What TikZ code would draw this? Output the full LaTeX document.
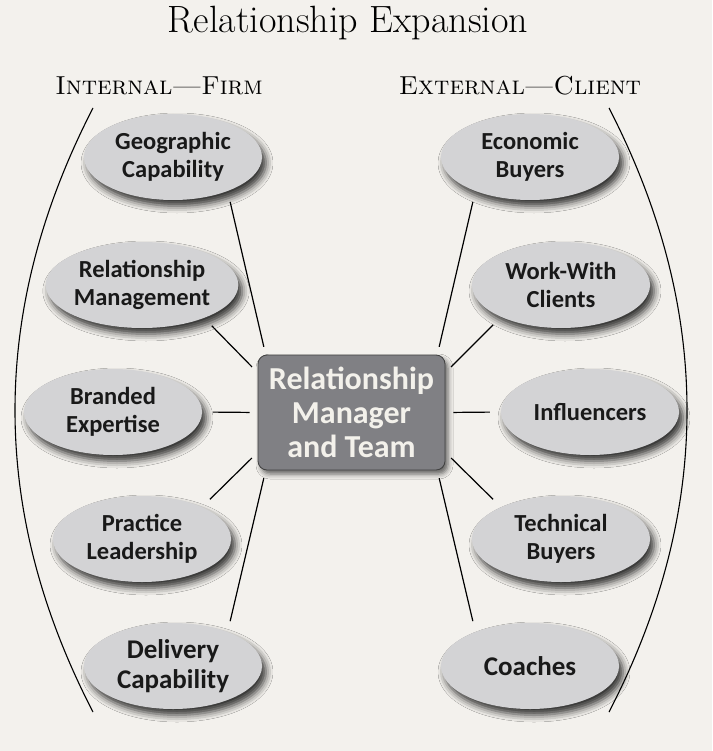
\documentclass[tikz,border=0pt]{standalone}
\usepackage{fontspec}
\newfontfamily\labelfont{Carlito}
\usetikzlibrary{shapes.geometric, shadows.blur}
\definecolor{paper}{RGB}{243,241,237}
\definecolor{bubblegray}{RGB}{211,211,213}
\definecolor{hubgray}{RGB}{128,128,132}
\definecolor{hubtext}{RGB}{243,241,235}

\begin{document}
\begin{tikzpicture}[x=1pt, y=-1pt,
    % Grey ellipse for each party
    bubble/.style={ellipse, minimum width=178pt, minimum height=86pt, inner sep=0pt,
        fill=bubblegray, align=center, text=black!90,
        font=\labelfont\bfseries\fontsize{24.5}{28}\selectfont,
        blur shadow={shadow xshift=4pt, shadow yshift=-6pt, shadow blur radius=7pt, shadow opacity=80}},
    % Bottom row - slightly larger text
    bigbubble/.style={bubble, font=\labelfont\bfseries\fontsize{27}{30}\selectfont},
    % Centre box
    hub/.style={rectangle, rounded corners=9pt, minimum width=187pt, minimum height=115pt,
        fill=hubgray, draw=black!75, line width=0.8pt, align=center, text=hubtext,
        font=\labelfont\bfseries\fontsize{32}{34}\selectfont,
        blur shadow={shadow xshift=3pt, shadow yshift=-4pt, shadow blur radius=5pt, shadow opacity=60}},
    % Side headings
    heading/.style={font=\fontsize{26}{30}\selectfont\scshape, anchor=base},
    titlelbl/.style={font=\fontsize{38}{42}\selectfont, anchor=base},
    % Connectors
    spoke/.style={line width=1.2pt, shorten <=11pt, shorten >=8pt},
    bracket/.style={line width=1.1pt}
]
    \useasboundingbox[fill=paper] (0,0) rectangle (712,751);

    % Title and headings
    \node[titlelbl] (title) at (348,33) {Relationship Expansion};
    \node[heading] (internal) at (159,95) {Internal---Firm};
    \node[heading] (external) at (520,95) {External---Client};

    % Centre box - reference node
    \node[hub] (mgr) at (351.5,412.5) {Relationship\\Manager\\and Team};

    % Internal (left) column
    \node[bubble] (geo) at (173,157) {Geographic\\Capability};
    \node[bubble] (relmgmt) at (142,285) {Relationship\\Management};
    \node[bubble] (branded) at (113,412) {Branded\\Expertise};
    \node[bubble] (practice) at (142,539) {Practice\\Leadership};
    \node[bigbubble] (delivery) at (173,666) {Delivery\\Capability};

    % External (right) column
    \node[bubble] (econ) at (530,157) {Economic\\Buyers};
    \node[bubble] (workwith) at (561,285) {Work-With\\Clients};
    \node[bubble] (influ) at (590,412) {Influencers};
    \node[bubble] (tech) at (561,539) {Technical\\Buyers};
    \node[bigbubble] (coach) at (530,666) {Coaches};

    % Spokes from ellipses to centre box
    \draw[spoke] (geo.-32) -- (mgr.146);
    \draw[spoke] (relmgmt.-28) -- (mgr.157);
    \draw[spoke] (branded.east) -- (mgr.west);
    \draw[spoke] (practice.28) -- (mgr.203);
    \draw[spoke] (delivery.32) -- (mgr.214);
    \draw[spoke] (econ.212) -- (mgr.34);
    \draw[spoke] (workwith.208) -- (mgr.23);
    \draw[spoke] (influ.west) -- (mgr.east);
    \draw[spoke] (tech.152) -- (mgr.-23);
    \draw[spoke] (coach.148) -- (mgr.-34);

    % Brackets round each column
    \draw[bracket] (93,108) .. controls (-11,310) and (-11,511) .. (93,712);
    \draw[bracket] (609,108) .. controls (713,310) and (713,511) .. (609,712);
\end{tikzpicture}
\end{document}
